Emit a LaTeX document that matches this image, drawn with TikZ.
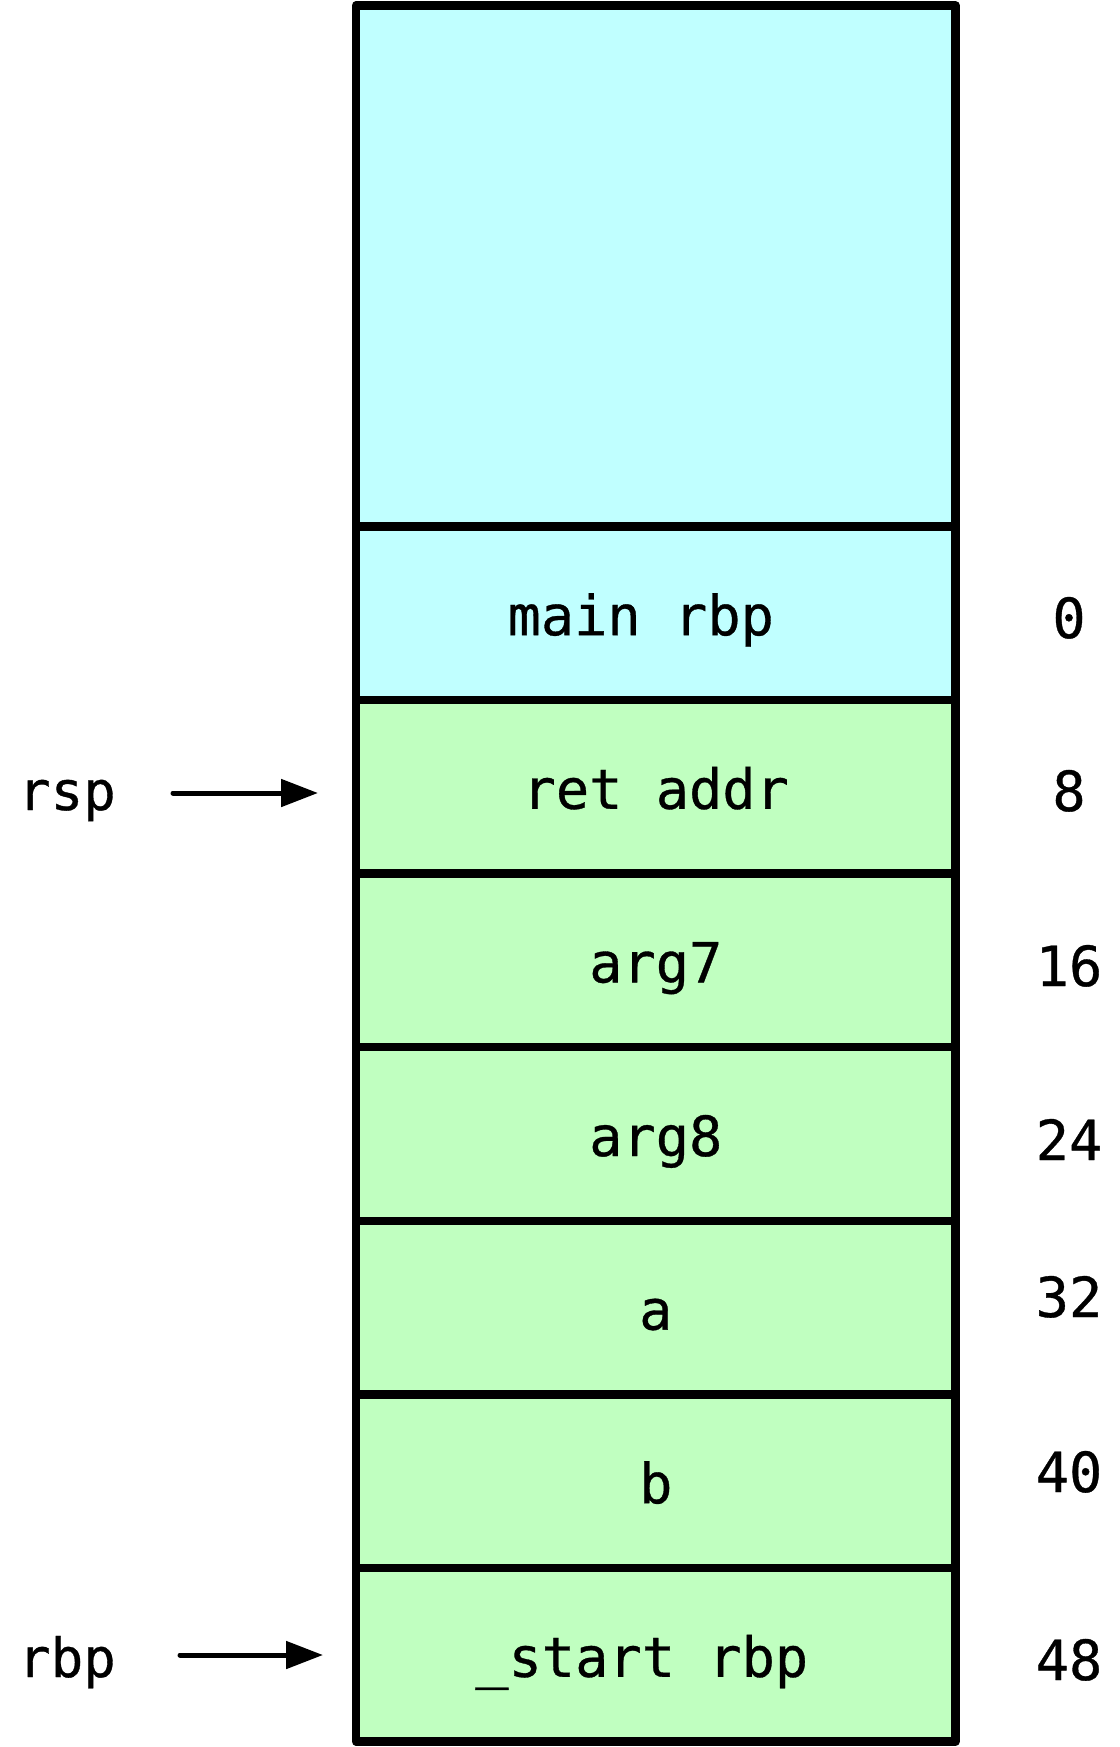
\documentclass[tikz,border=0pt]{standalone}
\usepackage{fontspec}
\newfontfamily\monof[FakeBold=0.6]{DejaVu Sans Mono}
\usetikzlibrary{arrows.meta,calc}
\definecolor{cyanbox}{RGB}{192,255,255}
\definecolor{greenbox}{RGB}{192,255,192}
\begin{document}
\begin{tikzpicture}[x=1pt,y=-1pt,
  cell/.style={draw=black, line width=8.5pt, line join=round, minimum width=599.5pt,
    minimum height=173.6pt, inner sep=0pt, outer sep=0pt},
  oldframe/.style={cell, fill=cyanbox},
  newframe/.style={cell, fill=greenbox},
  celltext/.style={anchor=base, inner sep=0pt, font=\monof\fontsize{55.3}{60}\selectfont},
  numtext/.style={anchor=base, inner sep=0pt, font=\monof\fontsize{55.3}{60}\selectfont},
  regtext/.style={anchor=base, inner sep=0pt, font=\monof\fontsize{54}{58}\selectfont},
  ptr/.style={line width=5pt, line cap=round, -{Triangle[length=37pt,width=27pt]}}
]
\useasboundingbox (0,0) rectangle (1119,1747);
% stack cells
\node[oldframe, minimum height=520.8pt] (top) at (655.75,266) {};
\node[oldframe] (r0) at (655.75,613.2) {};
\node[newframe] (r1) at (655.75,786.8) {};
\node[newframe] (r2) at (655.75,960.4) {};
\node[newframe] (r3) at (655.75,1134.0) {};
\node[newframe] (r4) at (655.75,1307.6) {};
\node[newframe] (r5) at (655.75,1481.2) {};
\node[newframe] (r6) at (655.75,1654.8) {};
% cell texts
\node[celltext] (t0) at ($(r0.center)+(-15,22)$) {main rbp};
\node[celltext] (t1) at ($(r1.center)+(0,22)$) {ret addr};
\node[celltext] (t2) at ($(r2.center)+(0,22)$) {arg7};
\node[celltext] (t3) at ($(r3.center)+(0,22)$) {arg8};
\node[celltext] (t4) at ($(r4.center)+(0,22)$) {a};
\node[celltext] (t5) at ($(r5.center)+(0,22)$) {b};
\node[celltext] (t6) at ($(r6.center)+(-14,22)$) {\_start rbp};
% offsets
\node[numtext] (n0) at (1069,638) {0};
\node[numtext] (n1) at (1069,811) {8};
\node[numtext] (n2) at (1069,986) {16};
\node[numtext] (n3) at (1069,1160) {24};
\node[numtext] (n4) at (1069,1317) {32};
\node[numtext] (n5) at (1069,1492) {40};
\node[numtext] (n6) at (1069,1680) {48};
% registers
\node[regtext] (rsp) at (67,810) {rsp};
\node[regtext] (rbp) at (67,1677) {rbp};
\coordinate (rspA) at (173,793);
\coordinate (rbpA) at (180,1655);
\draw[ptr, shorten >=38pt] (rspA) -- (rspA -| r1.west);
\draw[ptr, shorten >=33pt] (rbpA) -- (rbpA -| r6.west);
\end{tikzpicture}
\end{document}
